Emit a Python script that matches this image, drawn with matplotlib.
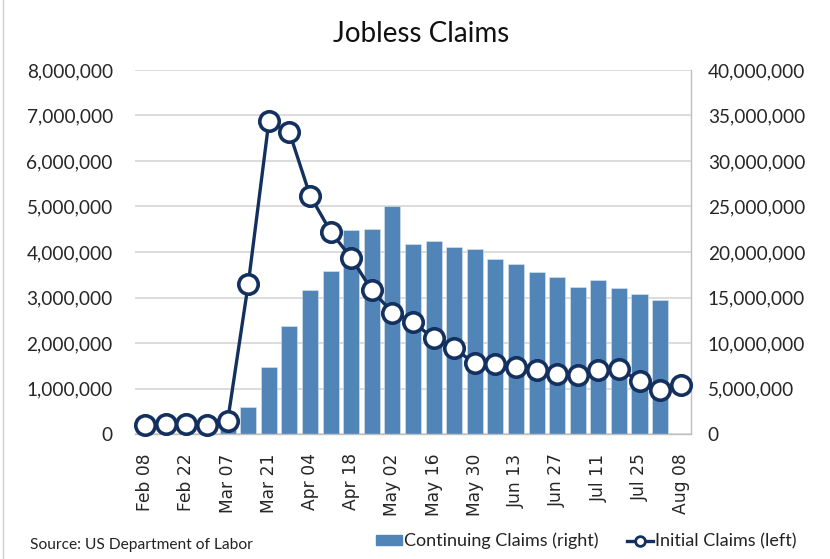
import matplotlib
matplotlib.use("Agg")
import matplotlib.pyplot as plt
import numpy as np
from matplotlib.lines import Line2D
from matplotlib.patches import Patch, Rectangle

weeks = ["Feb 08", "Feb 15", "Feb 22", "Feb 29", "Mar 07", "Mar 14", "Mar 21",
         "Mar 28", "Apr 04", "Apr 11", "Apr 18", "Apr 25", "May 02", "May 09",
         "May 16", "May 23", "May 30", "Jun 06", "Jun 13", "Jun 20", "Jun 27",
         "Jul 04", "Jul 11", "Jul 18", "Jul 25", "Aug 01", "Aug 08"]

initial_claims = [200e3, 225e3, 225e3, 200e3, 290e3, 3.30e6, 6.87e6, 6.63e6,
                  5.24e6, 4.45e6, 3.87e6, 3.16e6, 2.67e6, 2.46e6, 2.10e6,
                  1.88e6, 1.55e6, 1.54e6, 1.47e6, 1.41e6, 1.31e6, 1.30e6,
                  1.41e6, 1.43e6, 1.17e6, 0.97e6, 1.08e6]

continuing_claims = [0, 0, 0, 0, 1.7e6, 3.0e6, 7.4e6, 11.9e6, 15.8e6, 17.95e6,
                     22.4e6, 22.5e6, 25.0e6, 20.85e6, 21.25e6, 20.6e6, 20.3e6,
                     19.2e6, 18.7e6, 17.8e6, 17.3e6, 16.15e6, 16.9e6, 16.0e6,
                     15.4e6, 14.76e6, np.nan]

left_ticks = [0, 1e6, 2e6, 3e6, 4e6, 5e6, 6e6, 7e6, 8e6]
right_ticks = [0, 5e6, 10e6, 15e6, 20e6, 25e6, 30e6, 35e6, 40e6]

BAR = "#5185B8"
NAVY = "#13305F"
GRID = "#D9D9D9"
AXIS = "#BFBFBF"

fig = plt.figure(figsize=(8.3, 5.59), dpi=100)
W, H = 830, 559
ax = fig.add_axes([135 / W, 1 - 434 / H, (691 - 135) / W, (434 - 70) / H])
ax2 = ax.twinx()
ax.set_zorder(ax2.get_zorder() + 1)
ax.patch.set_visible(False)

x = np.arange(len(weeks))

# bars on right axis
ax2.bar(x, continuing_claims, width=0.78, color=BAR, edgecolor="#DCE6F0",
        linewidth=0.4, zorder=2)
ax2.set_ylim(0, 40e6)
ax2.set_yticks(right_ticks)
ax2.set_yticklabels([f"{int(v):,}" for v in right_ticks])
ax2.grid(axis="y", color=GRID, linewidth=1.3, zorder=0)
ax2.set_axisbelow(True)

# line on left axis
ax.plot(x, initial_claims, color=NAVY, linewidth=2.4, marker="o",
        markersize=14, markerfacecolor="white", markeredgecolor=NAVY,
        markeredgewidth=2.6, zorder=3, clip_on=False)
ax.set_ylim(0, 8e6)
ax.set_yticks(left_ticks)
ax.set_yticklabels([f"{int(v):,}" for v in left_ticks])
ax.set_xlim(-0.5, len(weeks) - 0.5)
ax.set_xticks(x[::2])
ax.set_xticklabels(weeks[::2], rotation=90, family="DejaVu Sans", fontsize=12.3,
                   va="top", ha="center")

for a in (ax, ax2):
    for s in ("top", "left"):
        a.spines[s].set_visible(False)
ax.spines["right"].set_visible(False)
ax2.spines["right"].set_color(AXIS)
ax2.spines["right"].set_linewidth(1.0)
ax.spines["bottom"].set_color(AXIS)
ax.spines["bottom"].set_linewidth(1.0)
ax2.spines["bottom"].set_visible(False)

ax.tick_params(axis="y", length=0, pad=16, labelsize=13.7, labelcolor="#262626")
ax2.tick_params(axis="y", length=0, pad=12, labelsize=13.7, labelcolor="#262626")
ax.tick_params(axis="x", length=0, pad=14, labelcolor="#262626")
for lab in ax.get_yticklabels() + ax2.get_yticklabels():
    lab.set_family("Lato")

fig.text(421 / W, 1 - 34 / H, "Jobless Claims", family="Lato", fontsize=20,
         ha="center", va="center", color="#111111")
fig.text(30 / W, 1 - 545 / H, "Source: US Department of Labor", family="Lato",
         fontsize=11.2, ha="left", va="center", color="#222222")

handles = [Patch(facecolor=BAR, edgecolor=BAR),
           Line2D([0], [0], color=NAVY, linewidth=2.4, marker="o", markersize=7,
                  markerfacecolor="white", markeredgecolor=NAVY, markeredgewidth=2)]
leg = fig.legend(handles, ["Continuing Claims (right)", "Initial Claims (left)"],
                 loc="center", bbox_to_anchor=(586 / W, 1 - 541 / H), ncol=2,
                 frameon=False, prop={"family": "Lato", "size": 13},
                 handlelength=1.45, handleheight=0.5, handletextpad=0.1,
                 columnspacing=1.6)
for t in leg.get_texts():
    t.set_color("#222222")

fig.patches.append(Rectangle((3 / W, -0.01), 1.0, 1.02, transform=fig.transFigure,
                             fill=False, edgecolor="#D0D0D0", linewidth=1.0))

fig.savefig("out.png", dpi=100)
